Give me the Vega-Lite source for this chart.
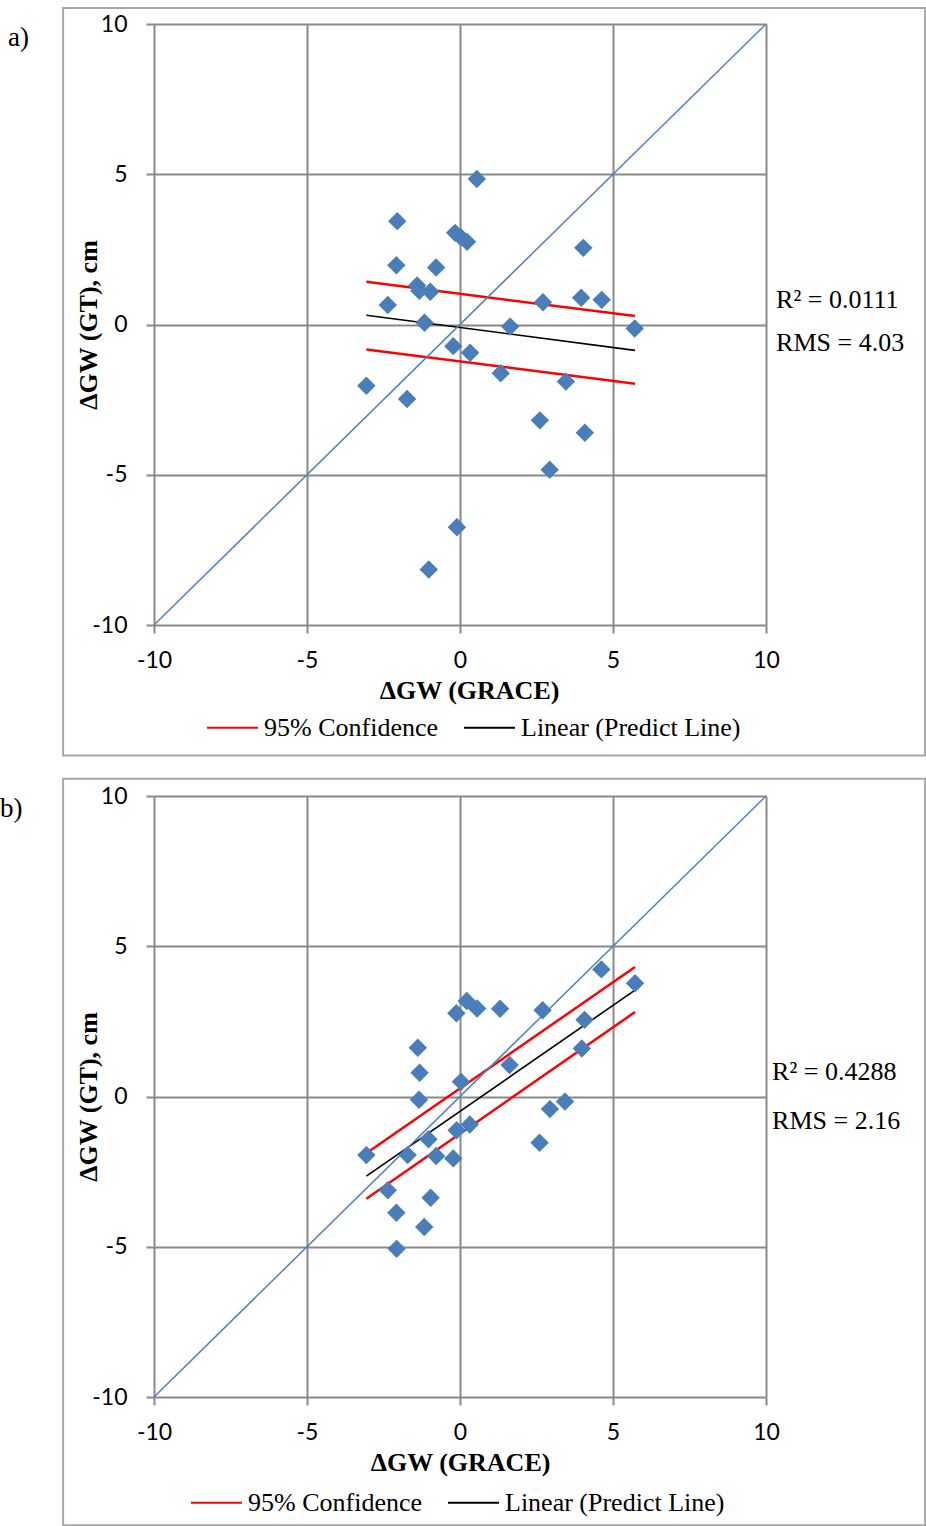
{
  "$schema": "https://vega.github.io/schema/vega-lite/v6.json",
  "background": "white",
  "padding": {"left": 0, "top": 7, "right": 0, "bottom": 0},
  "spacing": 20,
  "config": {
    "view": {"stroke": null},
    "font": "Liberation Serif",
    "axis": {
      "grid": true,
      "gridColor": "#898989",
      "gridWidth": 2,
      "domain": false,
      "tickColor": "#898989",
      "tickWidth": 2,
      "tickSize": 8,
      "labelFont": "Lato",
      "labelFontSize": 23,
      "labelColor": "#000000",
      "labelFlush": false,
      "labelOverlap": false,
      "titleFont": "Liberation Serif",
      "titleFontSize": 26,
      "titleFontWeight": "bold",
      "titleColor": "#000000"
    },
    "axisX": {"labelPadding": 16, "titlePadding": 5},
    "axisY": {"labelPadding": 19, "titlePadding": -10},
    "legend": {
      "orient": "none",
      "direction": "horizontal",
      "title": null,
      "labelFont": "Liberation Serif",
      "labelFontSize": 26,
      "labelColor": "#000000",
      "labelLimit": 0,
      "symbolType": "stroke",
      "symbolSize": 2600,
      "symbolStrokeWidth": 2,
      "labelOffset": 5,
      "columnPadding": 21
    }
  },
  "resolve": {
    "scale": {"x": "independent", "y": "independent"},
    "legend": {"color": "independent"}
  },
  "datasets": {
    "pointsA": [
      {"x": 0.55, "y": 4.84}, {"x": -2.05, "y": 3.44}, {"x": -0.16, "y": 3.05},
      {"x": 0.03, "y": 2.9}, {"x": 0.23, "y": 2.75}, {"x": 4.03, "y": 2.55},
      {"x": -2.08, "y": 1.97}, {"x": -0.78, "y": 1.9}, {"x": -1.4, "y": 1.3},
      {"x": -1.33, "y": 1.12}, {"x": -0.97, "y": 1.09}, {"x": -2.36, "y": 0.65},
      {"x": 2.71, "y": 0.74}, {"x": 3.96, "y": 0.89}, {"x": 4.63, "y": 0.82},
      {"x": -1.16, "y": 0.06}, {"x": 1.64, "y": -0.07}, {"x": 5.71, "y": -0.13},
      {"x": -0.22, "y": -0.72}, {"x": 0.33, "y": -0.94}, {"x": -3.06, "y": -2.04},
      {"x": -1.73, "y": -2.48}, {"x": 1.33, "y": -1.62}, {"x": 3.46, "y": -1.9},
      {"x": 2.61, "y": -3.19}, {"x": 4.08, "y": -3.6}, {"x": 2.93, "y": -4.83},
      {"x": -0.1, "y": -6.75}, {"x": -1.02, "y": -8.15}
    ],
    "pointsB": [
      {"x": 4.62, "y": 4.23}, {"x": 5.72, "y": 3.77}, {"x": 0.22, "y": 3.18},
      {"x": 0.56, "y": 2.93}, {"x": -0.12, "y": 2.77}, {"x": 1.31, "y": 2.92},
      {"x": 2.7, "y": 2.87}, {"x": 4.07, "y": 2.55}, {"x": -1.38, "y": 1.62},
      {"x": 3.98, "y": 1.6}, {"x": 1.62, "y": 1.05}, {"x": -1.32, "y": 0.79},
      {"x": 0.03, "y": 0.49}, {"x": -1.34, "y": -0.11}, {"x": 2.94, "y": -0.42},
      {"x": 3.43, "y": -0.17}, {"x": 0.32, "y": -0.93}, {"x": -0.11, "y": -1.12},
      {"x": -1.03, "y": -1.42}, {"x": 2.6, "y": -1.54}, {"x": -3.06, "y": -1.95},
      {"x": -1.71, "y": -1.95}, {"x": -0.78, "y": -1.98}, {"x": -0.22, "y": -2.06},
      {"x": -2.36, "y": -3.12}, {"x": -0.96, "y": -3.37}, {"x": -2.08, "y": -3.87},
      {"x": -1.17, "y": -4.34}, {"x": -2.07, "y": -5.07}
    ],
    "bandsA": [
      {"series": "95% Confidence", "part": "upper", "x": -3.06, "y": 1.42},
      {"series": "95% Confidence", "part": "upper", "x": 5.72, "y": 0.28},
      {"series": "95% Confidence", "part": "lower", "x": -3.06, "y": -0.83},
      {"series": "95% Confidence", "part": "lower", "x": 5.72, "y": -1.97}
    ],
    "fitA": [
      {"series": "Linear (Predict Line)", "part": "fit", "x": -3.06, "y": 0.31},
      {"series": "Linear (Predict Line)", "part": "fit", "x": 5.72, "y": -0.86}
    ],
    "bandsB": [
      {"series": "95% Confidence", "part": "upper", "x": -3.06, "y": -1.89},
      {"series": "95% Confidence", "part": "upper", "x": 5.72, "y": 4.31},
      {"series": "95% Confidence", "part": "lower", "x": -3.06, "y": -3.4},
      {"series": "95% Confidence", "part": "lower", "x": 5.72, "y": 2.81}
    ],
    "fitB": [
      {"series": "Linear (Predict Line)", "part": "fit", "x": -3.06, "y": -2.65},
      {"series": "Linear (Predict Line)", "part": "fit", "x": 5.72, "y": 3.54}
    ],
    "identity": [{"x": -10, "y": -10}, {"x": 10, "y": 10}],
    "panelA": [{"panel": "a"}],
    "panelB": [{"panel": "b"}]
  },
  "vconcat": [
    {
      "width": 612,
      "height": 601,
      "layer": [
        {
          "data": {"name": "panelA"},
          "mark": {"type": "rect", "filled": false, "stroke": "#A6A6A6", "strokeWidth": 2},
          "encoding": {
            "x": {"datum": -12.97, "type": "quantitative"},
            "x2": {"datum": 15.2},
            "y": {"datum": 10.53, "type": "quantitative"},
            "y2": {"datum": -14.34}
          }
        },
        {
          "data": {"name": "bandsA"},
          "mark": {"type": "line", "strokeWidth": 2.5},
          "encoding": {
            "x": {"field": "x", "type": "quantitative", "title": "ΔGW (GRACE)", "scale": {"domain": [-10, 10], "nice": false, "zero": false}, "axis": {"values": [-10, -5, 0, 5, 10], "labelExpr": "'' + datum.value", "titleX": 315}},
            "y": {"field": "y", "type": "quantitative", "title": "ΔGW (GT), cm", "scale": {"domain": [-10, 10], "nice": false, "zero": false}, "axis": {"values": [-10, -5, 0, 5, 10], "labelExpr": "'' + datum.value"}},
            "color": {"field": "series", "type": "nominal", "scale": {"domain": ["95% Confidence", "Linear (Predict Line)"], "range": ["#FF0000", "#000000"]}, "legend": {"legendX": 52, "legendY": 677}},
            "detail": {"field": "part"}
          }
        },
        {
          "data": {"name": "fitA"},
          "mark": {"type": "line", "strokeWidth": 1.6},
          "encoding": {
            "x": {"field": "x", "type": "quantitative", "title": "ΔGW (GRACE)"},
            "y": {"field": "y", "type": "quantitative", "title": "ΔGW (GT), cm"},
            "color": {"field": "series", "type": "nominal", "scale": {"domain": ["95% Confidence", "Linear (Predict Line)"], "range": ["#FF0000", "#000000"]}, "legend": {"legendX": 52, "legendY": 677}}
          }
        },
        {
          "data": {"name": "identity"},
          "mark": {"type": "line", "color": "#4F81BD", "strokeWidth": 1.5},
          "encoding": {
            "x": {"field": "x", "type": "quantitative", "title": "ΔGW (GRACE)"},
            "y": {"field": "y", "type": "quantitative", "title": "ΔGW (GT), cm"}
          }
        },
        {
          "data": {"name": "pointsA"},
          "mark": {"type": "point", "shape": "diamond", "filled": true, "color": "#4A7EBB", "opacity": 1, "size": 340},
          "encoding": {
            "x": {"field": "x", "type": "quantitative", "title": "ΔGW (GRACE)"},
            "y": {"field": "y", "type": "quantitative", "title": "ΔGW (GT), cm"}
          }
        },
        {
          "data": {"name": "panelA"},
          "mark": {"type": "text", "text": "R² = 0.0111", "align": "left", "baseline": "middle", "font": "Liberation Serif", "fontSize": 26, "color": "#000000"},
          "encoding": {"x": {"datum": 10.33, "type": "quantitative"}, "y": {"datum": 0.82, "type": "quantitative"}}
        },
        {
          "data": {"name": "panelA"},
          "mark": {"type": "text", "text": "RMS = 4.03", "align": "left", "baseline": "middle", "font": "Liberation Serif", "fontSize": 26, "color": "#000000"},
          "encoding": {"x": {"datum": 10.33, "type": "quantitative"}, "y": {"datum": -0.62, "type": "quantitative"}}
        },
        {
          "data": {"name": "panelA"},
          "mark": {"type": "text", "text": "a)", "align": "left", "baseline": "middle", "font": "Liberation Serif", "fontSize": 27, "color": "#000000"},
          "encoding": {"x": {"datum": -14.77, "type": "quantitative"}, "y": {"datum": 9.53, "type": "quantitative"}}
        }
      ]
    },
    {
      "width": 612,
      "height": 601,
      "layer": [
        {
          "data": {"name": "panelB"},
          "mark": {"type": "rect", "filled": false, "stroke": "#A6A6A6", "strokeWidth": 2},
          "encoding": {
            "x": {"datum": -12.97, "type": "quantitative"},
            "x2": {"datum": 15.2},
            "y": {"datum": 10.57, "type": "quantitative"},
            "y2": {"datum": -14.27}
          }
        },
        {
          "data": {"name": "bandsB"},
          "mark": {"type": "line", "strokeWidth": 2.5},
          "encoding": {
            "x": {"field": "x", "type": "quantitative", "title": "ΔGW (GRACE)", "scale": {"domain": [-10, 10], "nice": false, "zero": false}, "axis": {"values": [-10, -5, 0, 5, 10], "labelExpr": "'' + datum.value"}},
            "y": {"field": "y", "type": "quantitative", "title": "ΔGW (GT), cm", "scale": {"domain": [-10, 10], "nice": false, "zero": false}, "axis": {"values": [-10, -5, 0, 5, 10], "labelExpr": "'' + datum.value"}},
            "color": {"field": "series", "type": "nominal", "scale": {"domain": ["95% Confidence", "Linear (Predict Line)"], "range": ["#FF0000", "#000000"]}, "legend": {"legendX": 36, "legendY": 680}},
            "detail": {"field": "part"}
          }
        },
        {
          "data": {"name": "fitB"},
          "mark": {"type": "line", "strokeWidth": 1.6},
          "encoding": {
            "x": {"field": "x", "type": "quantitative", "title": "ΔGW (GRACE)"},
            "y": {"field": "y", "type": "quantitative", "title": "ΔGW (GT), cm"},
            "color": {"field": "series", "type": "nominal", "scale": {"domain": ["95% Confidence", "Linear (Predict Line)"], "range": ["#FF0000", "#000000"]}, "legend": {"legendX": 36, "legendY": 680}}
          }
        },
        {
          "data": {"name": "identity"},
          "mark": {"type": "line", "color": "#4F81BD", "strokeWidth": 1.5},
          "encoding": {
            "x": {"field": "x", "type": "quantitative", "title": "ΔGW (GRACE)"},
            "y": {"field": "y", "type": "quantitative", "title": "ΔGW (GT), cm"}
          }
        },
        {
          "data": {"name": "pointsB"},
          "mark": {"type": "point", "shape": "diamond", "filled": true, "color": "#4A7EBB", "opacity": 1, "size": 340},
          "encoding": {
            "x": {"field": "x", "type": "quantitative", "title": "ΔGW (GRACE)"},
            "y": {"field": "y", "type": "quantitative", "title": "ΔGW (GT), cm"}
          }
        },
        {
          "data": {"name": "panelB"},
          "mark": {"type": "text", "text": "R² = 0.4288", "align": "left", "baseline": "middle", "font": "Liberation Serif", "fontSize": 26, "color": "#000000"},
          "encoding": {"x": {"datum": 10.2, "type": "quantitative"}, "y": {"datum": 0.82, "type": "quantitative"}}
        },
        {
          "data": {"name": "panelB"},
          "mark": {"type": "text", "text": "RMS = 2.16", "align": "left", "baseline": "middle", "font": "Liberation Serif", "fontSize": 26, "color": "#000000"},
          "encoding": {"x": {"datum": 10.2, "type": "quantitative"}, "y": {"datum": -0.82, "type": "quantitative"}}
        },
        {
          "data": {"name": "panelB"},
          "mark": {"type": "text", "text": "b)", "align": "left", "baseline": "middle", "font": "Liberation Serif", "fontSize": 27, "color": "#000000"},
          "encoding": {"x": {"datum": -15.03, "type": "quantitative"}, "y": {"datum": 9.57, "type": "quantitative"}}
        }
      ]
    }
  ]
}
